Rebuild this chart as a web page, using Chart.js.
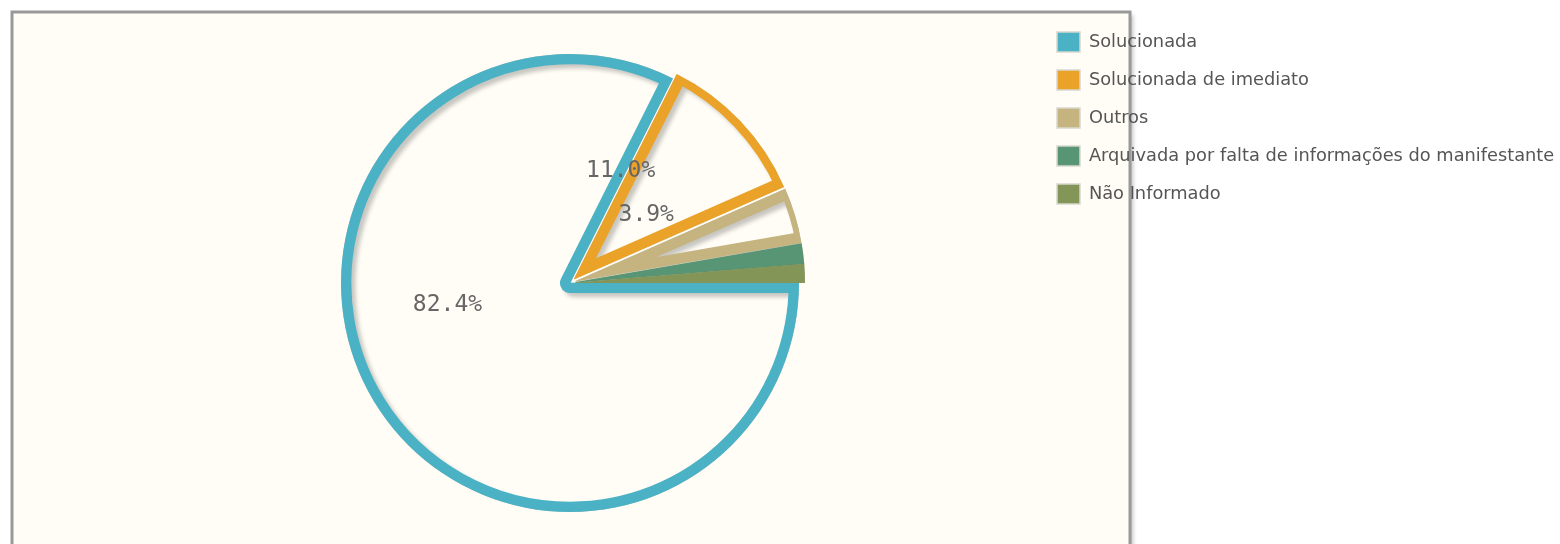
<!DOCTYPE html>
<html>
<head>
<meta charset="utf-8">
<script src="https://cdn.jsdelivr.net/npm/chart.js@4/dist/chart.umd.min.js"></script>
<style>
  html, body { margin: 0; padding: 0; background: #fff; overflow: hidden; }
  #wrap { width: 1560px; height: 552px; }
</style>
</head>
<body>
<div id="wrap"><canvas id="pie"></canvas></div>
<script>
const labels = [
  "Solucionada",
  "Solucionada de imediato",
  "Outros",
  "Arquivada por falta de informações do manifestante",
  "Não Informado"
];
const shares = [82.4, 11.0, 3.9, 1.4, 1.3];
const sliceColors = ["#4bb2c5", "#EAA228", "#c5b47f", "#579575", "#839557"];

// cream plot frame with a grey border, drawn behind everything
const frame = {
  id: "frame",
  beforeDraw(chart) {
    const ctx = chart.ctx;
    ctx.save();
    ctx.fillStyle = "#fff";
    ctx.fillRect(0, 0, chart.width, chart.height);
    ctx.shadowColor = "rgba(0,0,0,0.25)";
    ctx.shadowOffsetX = 3;
    ctx.shadowOffsetY = 3;
    ctx.shadowBlur = 4;
    ctx.fillStyle = "#fffdf6";
    ctx.fillRect(12, 12, 1118, 560);
    ctx.shadowColor = "transparent";
    ctx.strokeStyle = "#999";
    ctx.lineWidth = 3;
    ctx.strokeRect(12, 12, 1118, 560);
    ctx.restore();
  }
};

// soft shadow under the slice outlines
const sliceShadow = {
  id: "sliceShadow",
  beforeDatasetsDraw(chart) {
    const ctx = chart.ctx;
    ctx.save();
    ctx.shadowColor = "rgba(0,0,0,0.22)";
    ctx.shadowOffsetX = 4;
    ctx.shadowOffsetY = 4;
    ctx.shadowBlur = 4;
  },
  afterDatasetsDraw(chart) {
    chart.ctx.restore();
  }
};

// percent labels inside the bigger slices (the original sits them up-left of the mid line)
const pctLabels = {
  id: "pctLabels",
  afterDatasetsDraw(chart) {
    const ctx = chart.ctx;
    const meta = chart.getDatasetMeta(0);
    const total = shares.reduce((a, b) => a + b, 0);
    ctx.save();
    ctx.font = "23px 'DejaVu Sans Mono'";
    ctx.fillStyle = "#666";
    ctx.textAlign = "center";
    ctx.textBaseline = "middle";
    meta.data.forEach((arc, i) => {
      const pct = shares[i] / total * 100;
      if (pct < 3) return;
      const p = arc.getProps(["x", "y", "startAngle", "endAngle", "outerRadius"], true);
      const mid = (p.startAngle + p.endAngle) / 2;
      const r = p.outerRadius * 0.48;
      ctx.fillText(pct.toFixed(1) + "%", p.x + Math.cos(mid) * r - 29, p.y + Math.sin(mid) * r - 36);
    });
    ctx.restore();
  }
};

new Chart(document.getElementById("pie"), {
  type: "pie",
  data: {
    labels: labels,
    datasets: [{
      data: shares,
      backgroundColor: "rgba(0,0,0,0)",
      borderColor: sliceColors,
      borderWidth: 10,
      borderAlign: "inner",
      offset: [0, 24, 24, 24, 24]
    }]
  },
  options: {
    responsive: true,
    maintainAspectRatio: false,
    animation: false,
    rotation: 90,
    radius: 229,
    events: [],
    layout: { padding: { left: 101, top: 14, bottom: 0, right: 0 } },
    plugins: {
      tooltip: { enabled: false },
      legend: {
        position: "right",
        align: "start",
        maxWidth: 521,
        labels: {
          boxWidth: 23,
          boxHeight: 20,
          padding: 18,
          color: "#555",
          font: { family: "'DejaVu Sans'", size: 17.8 },
          generateLabels(chart) {
            return labels.map((text, i) => ({
              text: text,
              fillStyle: sliceColors[i],
              strokeStyle: "#d8d8d0",
              fontColor: "#555",
              lineWidth: 1.5,
              hidden: false,
              index: i
            }));
          }
        }
      }
    }
  },
  plugins: [frame, sliceShadow, pctLabels]
});
</script>
</body>
</html>
